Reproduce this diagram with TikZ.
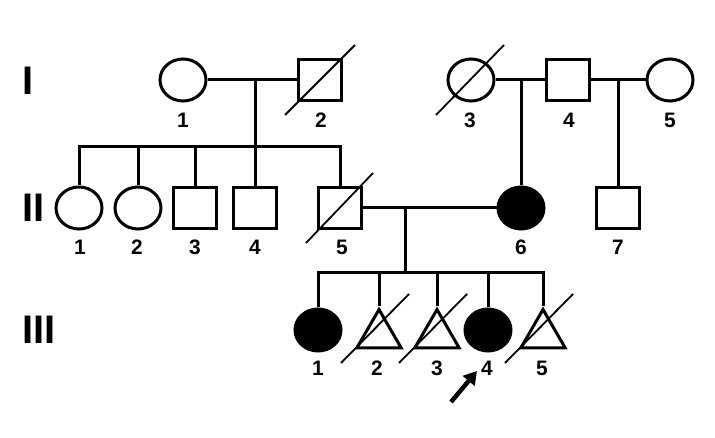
\documentclass[tikz,border=0pt]{standalone}
\usepackage{fontspec}
\setmainfont{Liberation Sans}
\usetikzlibrary{shapes.geometric,arrows.meta}
\begin{document}
\begin{tikzpicture}[
    x=1bp, y=-1bp,
    line width=3bp,
    female/.style={draw, ellipse, minimum width=46bp, minimum height=42bp, inner sep=0pt},
    male/.style={draw, rectangle, minimum width=43bp, minimum height=41bp, inner sep=0pt},
    unknown/.style={draw, regular polygon, regular polygon sides=3, minimum size=51bp, inner sep=0pt},
    affected/.style={fill=black},
    slash/.style={line width=1.8bp},
    num/.style={font=\fontsize{21}{21}\selectfont\bfseries, inner sep=0pt},
    gen/.style={font=\fontsize{40}{40}\selectfont\bfseries, inner sep=0pt, anchor=west}
]
\useasboundingbox (0,0) rectangle (715,438);

% generation I
\node[female] (i1) at (183,80) {};
\node[male] (i2) at (320,80) {};
\node[female] (i3) at (471,80) {};
\node[male] (i4) at (568,80) {};
\node[female] (i5) at (670,80) {};

% generation II
\node[female] (ii1) at (79,208) {};
\node[female] (ii2) at (138,208) {};
\node[male] (ii3) at (195,208) {};
\node[male] (ii4) at (255,208) {};
\node[male] (ii5) at (340,208) {};
\node[female, affected] (ii6) at (521,208) {};
\node[male] (ii7) at (618,208) {};

% generation III
\node[female, affected] (iii1) at (318,330) {};
\node[unknown] (iii2) at (379,335) {};
\node[unknown] (iii3) at (437,335) {};
\node[female, affected] (iii4) at (488,330) {};
\node[unknown] (iii5) at (543,335) {};

% couple I-1 x I-2
\coordinate (m1) at (255,80);
\coordinate (s1) at (255,147);
\draw (i1) -- (i2);
\draw (m1) -- (s1);
\draw (ii1) |- (s1) -| (ii5);
\draw (ii2) -- (ii2 |- s1);
\draw (ii3) -- (ii3 |- s1);
\draw (ii4) -- (ii4 |- s1);

% couples I-3 x I-4 x I-5
\coordinate (m2) at (ii6 |- i3);
\coordinate (m3) at (ii7 |- i4);
\draw (i3) -- (i4);
\draw (i4) -- (i5);
\draw (m2) -- (ii6);
\draw (m3) -- (ii7);

% couple II-5 x II-6
\coordinate (m4) at (405,208);
\coordinate (s2) at (405,273);
\draw (ii5) -- (ii6);
\draw (m4) -- (s2);
\draw (iii1) |- (s2) -| (iii5);
\draw (iii2) -- (iii2 |- s2);
\draw (iii3) -- (iii3 |- s2);
\draw (iii4) -- (iii4 |- s2);

% deceased
\draw[slash] (i2) ++(-35,35) -- ++(70,-70);
\draw[slash] (i3) ++(-35,35) -- ++(68,-70);
\draw[slash] (ii5) ++(-34,35) -- ++(67,-70);
\draw[slash] (iii2) ++(-38,28) -- ++(68,-69);
\draw[slash] (iii3) ++(-38,28) -- ++(68,-69);
\draw[slash] (iii5) ++(-38,28) -- ++(68,-69);

% numbers
\node[num] (n-i1) at (183,120) {1};
\node[num] (n-i2) at (321,120) {2};
\node[num] (n-i3) at (470,120) {3};
\node[num] (n-i4) at (569,120) {4};
\node[num] (n-i5) at (670,120) {5};

\node[num] (n-ii1) at (80,247) {1};
\node[num] (n-ii2) at (137,247) {2};
\node[num] (n-ii3) at (195,247) {3};
\node[num] (n-ii4) at (255,247) {4};
\node[num] (n-ii5) at (342,247) {5};
\node[num] (n-ii6) at (521,247) {6};
\node[num] (n-ii7) at (618,247) {7};

\node[num] (n-iii1) at (318,368) {1};
\node[num] (n-iii2) at (377,368) {2};
\node[num] (n-iii3) at (437,368) {3};
\node[num] (n-iii4) at (487,368) {4};
\node[num] (n-iii5) at (542,368) {5};

% generations
\node[gen] (g1) at (21,81) {I};
\node[gen] (g2) at (21,208) {II};
\node[gen] (g3) at (21,330) {III};

% proband
\coordinate (arr-tail) at (451,402);
\coordinate (arr-head) at (477,371);
\draw[line width=4.5bp, -{Triangle[length=13bp, width=15bp]}] (arr-tail) -- (arr-head);
\end{tikzpicture}
\end{document}
